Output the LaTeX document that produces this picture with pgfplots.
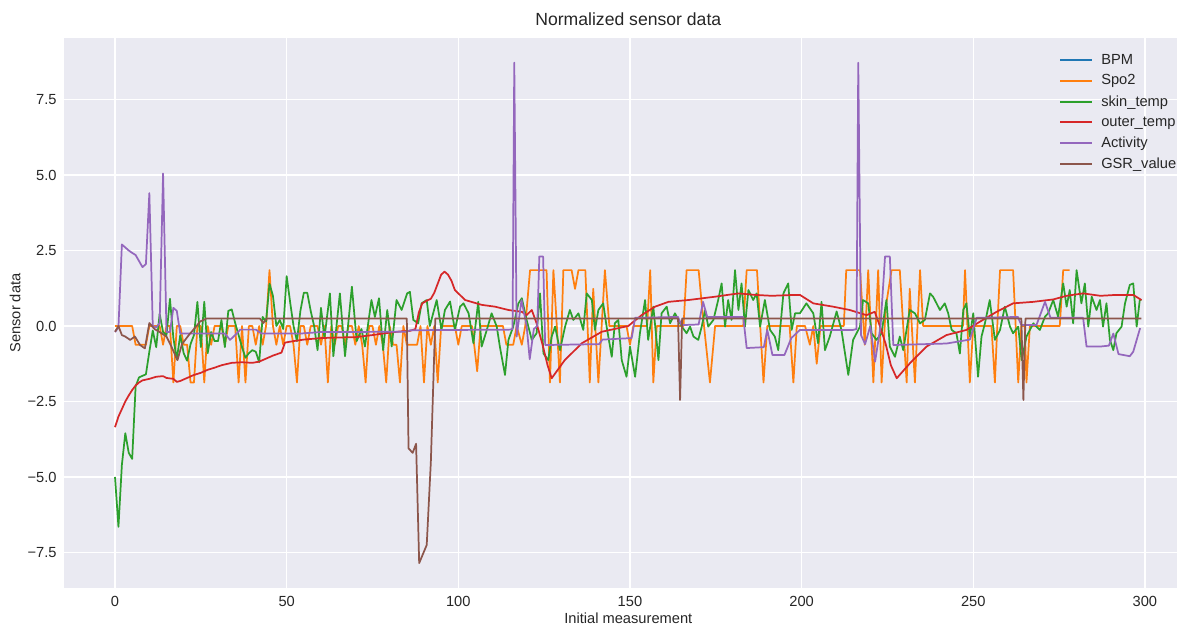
\documentclass[border=0pt]{standalone}
\usepackage{pgfplots}
\pgfplotsset{compat=1.18}
\usepackage{fontspec}
\setmainfont{Liberation Sans}
\definecolor{bgc}{HTML}{EAEAF2}
\definecolor{txt}{HTML}{262626}
\definecolor{c0}{HTML}{1F77B4}
\definecolor{c1}{HTML}{FF7F0E}
\definecolor{c2}{HTML}{2CA02C}
\definecolor{c3}{HTML}{D62728}
\definecolor{c4}{HTML}{9467BD}
\definecolor{c5}{HTML}{8C564B}
\begin{document}
\begin{tikzpicture}
\begin{axis}[
    scale only axis,
    width=834.75pt, height=412.5pt,
    xmin=-14.86, xmax=309.35,
    ymin=-8.675, ymax=9.536,
    axis background/.style={fill=bgc},
    axis line style={draw=none},
    major tick length=0pt,
    grid=major,
    major grid style={white, line width=0.9pt},
    xtick={0,50,100,150,200,250,300},
    xticklabels={0,50,100,150,200,250,300},
    ytick={-7.5,-5,-2.5,0,2.5,5,7.5},
    yticklabels={−7.5,−5.0,−2.5,0.0,2.5,5.0,7.5},
    ticklabel style={font=\fontsize{11}{13}\selectfont, text=txt},
    xticklabel style={yshift=-2.5pt},
    yticklabel style={xshift=-2pt},
    title={Normalized sensor data},
    title style={font=\fontsize{13.2}{15}\selectfont, text=txt, at={(axis description cs:0.507,1.02)}, anchor=center},
    xlabel={Initial measurement},
    xlabel style={font=\fontsize{11}{13}\selectfont, text=txt, at={(axis description cs:0.507,-0.0545)}, anchor=center},
    ylabel={Sensor data},
    ylabel style={font=\fontsize{11}{13}\selectfont, text=txt, at={(axis description cs:-0.044,0.5)}, anchor=center},
    legend cell align=left,
    legend image code/.code={\draw[#1, line width=1.5pt] (0pt,0pt) -- (24pt,0pt); \path (28pt,0pt);},
    legend style={at={(axis description cs:0.8905,0.981)}, anchor=north west, draw=none, fill=none,
        font=\fontsize{11}{13}\selectfont, text=txt, row sep=2.4pt},
    every axis plot/.append style={line width=1.3pt, line join=round},
]
\addlegendimage{c0}
\addlegendentry{BPM}

% Spo2
\addplot[c1] coordinates {
(0,0)(1,0)(2,0)(3,0)(4,0)(5,0)(6,-0.62)(7,-0.62)(8,-0.62)(9,-0.62)(10,0)(11,0)(12,0)(13,0)(14,-0.62)(15,0)(16,0)(17,-1.87)(18,0)(19,0)(20,-0.62)(21,-0.62)(22,-1.87)(23,-1.87)(24,0)(25,0)(26,-1.87)(27,0)(28,-0.62)(29,0)(30,0)(31,0)(32,-0.62)(33,0)(34,0)(35,0)(36,-1.87)(37,0)(38,-1.87)(39,0)(40,0)(41,-0.62)(42,0)(43,-0.62)(44,0)(45,1.85)(46,0)(47,-0.62)(48,0)(49,-0.62)(50,0)(51,0)(52,-0.62)(53,-1.87)(54,0)(55,0)(56,-0.62)(57,0)(58,0)(59,0)(60,-0.62)(61,0)(62,-1.87)(63,0)(64,-0.62)(65,0)(66,0)(67,-0.62)(68,0)(69,0)(70,-0.62)(71,0)(72,-0.62)(73,-1.87)(74,0)(75,0)(76,-0.62)(77,0)(78,-0.62)(79,-1.87)(80,0)(81,-0.62)(82,-0.62)(83,-1.87)(84,0)(85,-0.62)(86,-0.62)(87,-0.62)(88,-0.62)(89,0)(90,-1.87)(91,0)(92,-0.62)(93,0)(94,-1.87)(95,0)(96,0)(97,0)(98,0)(99,0)
(100,-0.62)(101,0)(104,0)(105.5,-1.5)(106.5,0)(113,0)(114,-0.62)(116,-0.62)(117,0)(118.5,-0.62)(119.5,0)(120.9,1.85)(125.7,1.85)(126.7,-1.87)(127.7,1.85)(128.7,0)(129.6,-1.87)(130.6,1.85)(131.6,1.85)(133,1.85)(134,1.23)(135,1.85)(137,1.85)(138.3,-1.87)(139.3,1.23)(140.8,-1.87)(142.7,1.85)(144,0)(149,0)(150,-0.62)(151,0)(155,0)(155.9,1.85)(156.8,-1.87)(157.8,0)(165.6,0)(166.5,1.85)(170,1.85)(171,0.62)(173.3,-1.87)(174.8,0)(183,0)(184,1.85)(187,1.85)(188.9,-1.87)(190,0)(196.5,0)(197.6,-1.87)(198.6,0)
(201,0)(202.4,-0.62)(203.4,0)(204.4,-1.25)(205.5,0)(212.3,0)(213,1.85)(217,1.85)(218.4,-0.62)(219.4,1.85)(220.9,-1.87)(222.3,1.85)(223.3,-1.87)(224.5,0.62)(226.2,1.85)(228.6,1.85)(230.6,-1.87)(231.5,1.23)(233,-1.87)(234.5,1.85)(235.4,0)(247,0)(247.6,1.85)(249,-1.87)(250,0)(255.3,0)(256.3,-1.87)(257,0)(257.8,1.85)(261.6,1.85)(263.1,-1.87)(264,0)(265,0)(265.5,-1.87)(266.5,0)(275.2,0)(276.2,1.85)(278.1,1.85)
};
\addlegendentry{Spo2}

% skin_temp
\addplot[c2] coordinates {
(0,-5.0)(1,-6.65)(2,-4.6)(3,-3.55)(4,-4.2)(5,-4.4)(6,-2.0)(7,-1.7)(8,-1.65)(9,-1.6)(10,-0.85)(11,-0.15)(12,-0.7)(13,0.4)(14,-0.2)(15,-0.3)(16,0.9)(17,-0.4)(18,-1.1)(19,-0.3)(20,-0.9)(21,-1.15)(22,-0.6)(23,-0.3)(24,0.8)(25,-0.7)(26,0.8)(27,-0.9)(28,-0.2)(29,-0.5)(30,-0.5)(31,0.2)(32,-0.7)(33,0.5)(34,0.55)(35,0.1)(36,-0.3)(37,-0.7)(38,-1.05)(39,-0.9)(40,-0.8)(41,-0.85)(42,-1.2)(43,0.3)(44,0.15)(45,1.4)(46,1.0)(47,0.0)(48,0.2)(49,-0.1)(50,1.65)(51,0.8)(52,0.0)(53,-0.5)(54,0.5)(55,1.1)(56,1.1)(57,0.5)(58,0.0)(59,-0.8)(60,0.6)(61,-0.4)
(62.6,1.08)(63.6,-1.0)(65.5,1.08)(67,-1.0)(69,1.3)(70.4,-0.5)(71.8,-0.1)(72.8,-0.68)(74.7,0.86)(75.7,0.3)(76.9,0.92)(78.1,-0.8)(79.3,0.53)(80.6,-0.68)(82,0.86)(83.5,0.53)(85.1,1.08)(85.9,1.13)(86.9,0.2)(88.3,0.09)(89.3,0.75)(90.8,0.86)(91.7,0.0)(93.7,0.86)(95.1,-0.13)(96.1,0.53)(97.6,0.81)(99,-0.13)(100.5,0.64)
(101.5,0.75)(103,0.42)(104.4,-0.57)(105.8,0.8)(106.8,-0.68)(108.3,-0.13)(109.7,0.42)(111.2,-0.02)(112.1,-0.68)(113.6,-1.62)(114.6,-0.46)(116,-0.02)(117.5,0.75)(118.5,0.92)(119.9,0.2)(121.4,-0.46)(122.8,-0.24)(123.8,1.08)(124.8,-0.91)(126.2,-1.13)(127.2,-0.35)(128.2,-0.02)(129.6,-0.8)(131.1,-0.02)(132.5,0.53)(133.5,0.2)(135,0.42)(136.4,-0.13)(137.4,1.08)(138.9,0.86)(139.8,-0.13)(140.8,0.53)(142.2,0.75)(143.2,-0.02)(144.7,-1.02)(145.6,0.09)(146.6,0.2)(147.6,-1.13)(149,-1.68)(150,-0.68)(151.5,-1.68)(152.9,-0.24)(154.4,0.86)(155.3,-0.46)(156.8,0.64)(158.3,-1.13)(159.2,0.42)(160.7,0.64)(161.7,0.09)(163.1,0.42)(165.1,-0.02)(166.5,-0.24)(167.5,-0.02)(168.5,-0.35)(169.9,-0.46)(170.9,-0.02)(171.9,0.53)(172.8,-0.02)(174.3,0.2)(175.7,0.86)(176.7,1.41)(177.7,-0.02)(178.6,0.86)(179.6,0.2)(180.6,1.85)(181.6,0.53)(182.5,1.41)(183.5,-0.02)(184.5,1.19)(185.9,0.86)(186.9,1.08)(187.9,-0.02)(189.3,0.86)(190.8,-0.13)(192.2,-0.35)(193.2,-0.8)(194.7,1.08)(196.1,1.41)(197.1,-0.13)(198.1,0.42)
(199.5,0.42)(201.4,0.75)(203.4,0.42)(204.8,-0.57)(205.8,0.8)(206.8,-0.8)(208.2,-0.35)(210.2,0.48)(211.6,-0.13)(213.6,-1.62)(215,-0.46)(217,-0.02)(217.9,0.86)(219.4,0.75)(220.4,-0.24)(221.8,-0.46)(223.3,-0.24)(224.7,0.86)(225.7,-0.68)(227.2,-1.02)(228.6,-0.35)(229.6,-0.8)(231.5,0.53)(233,0.42)(234.5,0.09)(235.9,0.2)(237.4,1.08)(238.3,0.97)(239.3,0.75)(240.3,0.53)(241.7,0.75)(242.7,0.42)(243.7,-0.13)(245.1,-0.24)(246.1,-0.91)(247.1,0.53)(248,0.75)(249,-0.35)(250,0.42)(251.4,-1.68)(252.4,-0.35)(253.4,0.09)(254.8,0.86)(256.3,-0.46)(257.8,-0.13)(259.2,0.64)(260.7,-0.02)(261.6,-0.24)(263.1,-0.02)(264.1,-1.13)(265.5,-0.35)(266.5,-0.13)(267.5,0.09)(268.4,-0.02)(269.4,-0.13)(270.9,0.31)(271.8,0.42)(273.3,0.86)(274.7,0.31)(276.2,1.41)(277.2,0.64)(278.1,1.19)(279.1,0.09)(280.1,1.85)(281.5,0.75)(282.5,1.41)(283.5,-0.02)(284.5,0.97)(285.9,0.53)(286.9,0.86)(287.8,-0.02)(288.8,0.75)(289.8,-0.46)(290.8,-0.8)(291.7,-0.24)(293.2,-0.02)(294.2,0.75)(295.6,1.36)(296.6,1.41)(297.6,-0.02)(298.5,0.86)(299,0.86)
};
\addlegendentry{skin\_temp}

% outer_temp
\addplot[c3] coordinates {
(0,-3.35)(1,-3.0)(2,-2.75)(3,-2.5)(4,-2.3)(5,-2.12)(6,-1.97)(7,-1.87)(8,-1.8)(10,-1.75)(12,-1.68)(14,-1.66)(15,-1.72)(17,-1.75)(18,-1.85)(19,-1.82)(21,-1.72)(23,-1.62)(25,-1.55)(27,-1.45)(29,-1.38)(31,-1.3)(34,-1.22)(37,-1.2)(40,-1.22)(42,-1.18)(44,-1.08)(46,-0.98)(48,-0.9)(48.5,-0.88)(49.5,-0.55)(52,-0.5)(55,-0.45)(60,-0.4)(65,-0.38)(70,-0.37)(75,-0.3)(80,-0.22)(83,-0.18)(86,-0.16)(87.5,-0.1)(88.5,0.45)(89.5,0.75)(91,0.85)(92,0.9)(93,1.1)(94,1.4)(95,1.7)(96,1.8)(97,1.7)(98,1.5)(99,1.19)(102,0.86)(106.8,0.7)(110.7,0.64)(114.6,0.53)(118.5,0.47)(119.9,0.36)(121.4,0.53)(122.8,0.09)(124.5,-0.6)(126,-1.3)(127.2,-1.73)(131,-1.13)(136,-0.57)(141.8,-0.19)(149.5,0.0)(153.4,0.36)(157.3,0.64)(161.2,0.8)(167,0.86)(174.8,0.97)(181.6,1.08)(186.4,1.03)(191.3,1.0)(198,1.03)
(199.5,1.03)(203.4,0.75)(209.2,0.64)(214,0.53)(218.9,0.36)(221.3,0.47)(222.8,0.0)(224.5,-0.6)(226,-1.3)(227.7,-1.73)(231.5,-1.24)(236.4,-0.68)(242.2,-0.3)(248,-0.13)(251.9,0.14)(256.8,0.47)(261.6,0.75)(267.5,0.8)(273.3,0.88)(277.2,1.0)(282,1.08)(287,1.0)(291.7,1.03)(296.6,1.03)(299,0.86)
};
\addlegendentry{outer\_temp}

% Activity
\addplot[c4] coordinates {
(0,-0.2)(1,-0.05)(2,2.7)(3,2.6)(4,2.5)(5,2.42)(6,2.35)(7,2.15)(8,1.95)(9,2.05)(10,4.4)(11,0.0)(12,-0.05)(13,0.1)(14,5.05)(15,-0.2)(16,-0.2)(17,0.6)(18,0.5)(19,-0.25)(32,-0.25)(33.5,-0.46)(35,-0.3)(36.5,-0.12)(41,-0.12)(42.7,-0.25)(54,-0.25)(60,-0.2)(85,-0.19)(86,-0.14)(115,-0.12)(115.8,-0.1)(116.3,8.72)(117,-0.35)(118.4,0.86)(119.9,0.0)(120.8,-1.1)(122,-0.1)(123,0.0)(123.6,2.3)(124.7,2.3)(125.3,-0.63)(141,-0.6)(142,-0.45)(150.5,-0.4)(151.5,0.27)(164,0.3)(165,0.03)(170,0.05)(171.3,0.8)(172.5,0.3)(183,0.3)(184,-0.73)(189,-0.7)(190,-0.13)(191.5,-0.96)(195,-0.96)(197,-0.4)(199.5,-0.13)(215,-0.13)(216,-0.1)(216.5,8.72)(217.3,-0.3)(218.5,-0.6)(220,0.0)(221.4,-1.18)(223,0.0)(224.3,2.3)(225.7,2.3)(226.7,-0.63)(242.2,-0.58)(249,-0.45)(251,0.27)(263,0.3)(264,0.03)(268.4,0.03)(270.9,0.8)(272.5,0.27)(282,0.27)(283,-0.68)(287,-0.68)(289.5,-0.65)(290.8,-0.25)(292.3,-0.93)(295.6,-1.0)(296.6,-0.85)(298.6,-0.07)
};
\addlegendentry{Activity}

% GSR_value
\addplot[c5] coordinates {
(0,-0.19)(1,0.0)(2,-0.3)(3,-0.35)(4.4,-0.46)(5.8,-0.35)(7.3,-0.63)(8.7,-0.74)(10,0.1)(11.5,-0.1)(13,-0.2)(15,-0.35)(16.5,-0.7)(18.2,-1.13)(19.5,-0.6)(21.5,-0.3)(23,-0.1)(24.8,0.15)(26.7,0.25)(42.2,0.25)(43.2,0.1)(44.2,0.25)(85,0.25)(85.5,-4.05)(86.7,-4.2)(87.7,-3.9)(88.6,-7.85)(90.8,-7.25)(92,-4.5)(93.3,0.25)(164,0.25)(164.6,-2.45)(165.2,0.25)(264,0.25)(264.6,-2.45)(265.2,0.25)(299,0.25)
};
\addlegendentry{GSR\_value}
\end{axis}
\pgfresetboundingbox
\path ([xshift=-48pt,yshift=-27pt]current axis.south west) rectangle ([yshift=28.5pt]current axis.north east);
\end{tikzpicture}
\end{document}
